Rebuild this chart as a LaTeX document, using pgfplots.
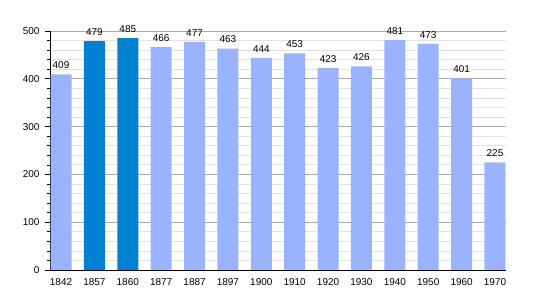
\documentclass[border=0pt]{standalone}
\usepackage{fontspec}
\setmainfont{Liberation Sans}
\usepackage{pgfplots}
\pgfplotsset{compat=1.18}
\definecolor{lightbar}{RGB}{153,179,255}
\definecolor{darkbar}{RGB}{0,128,208}
\definecolor{majgrid}{RGB}{170,170,170}
\definecolor{mingrid}{RGB}{226,226,226}
\begin{document}
\begin{tikzpicture}
\fontsize{10}{12}\selectfont
\begin{axis}[
  scale only axis,
  width=456bp, height=239bp,
  xmin=-0.33, xmax=13.33,
  ymin=0, ymax=500,
  axis x line*=bottom, axis y line*=left,
  xtick={0,...,13},
  xticklabels={1842,1857,1860,1877,1887,1897,1900,1910,1920,1930,1940,1950,1960,1970},
  xtick style={draw=none},
  ytick={0,100,...,500},
  minor y tick num=4,
  tick align=outside,
  major tick length=5bp, minor tick length=3bp,
  ymajorgrids, yminorgrids,
  major grid style={majgrid, line width=0.7pt},
  minor grid style={mingrid, line width=0.7pt},
  axis line style={black, line width=0.9pt},
  tick style={black, line width=0.6pt},
  tick label style={font=\fontsize{10}{12}\selectfont},
  yticklabel style={xshift=-2bp},
  /pgf/number format/assume math mode=true,
  ybar, bar width=21bp, bar shift=0pt,
  nodes near coords,
  every node near coord/.append style={font=\fontsize{10}{12}\selectfont, black, inner sep=2.5pt, yshift=3bp},
  clip=false,
]
\addplot[fill=lightbar, draw=none] coordinates {
(0,409) (3,466) (4,477) (5,463) (6,444) (7,453) (8,423) (9,426) (10,481) (11,473) (12,401) (13,225)};
\addplot[fill=darkbar, draw=none] coordinates {(1,479) (2,485)};
\coordinate (ll) at (rel axis cs:0,0);
\coordinate (ur) at (rel axis cs:1,1);
\end{axis}
\pgfresetboundingbox
\path ([xshift=-50bp,yshift=-30bp]ll) rectangle ([xshift=29bp,yshift=31bp]ur);
\end{tikzpicture}
\end{document}
